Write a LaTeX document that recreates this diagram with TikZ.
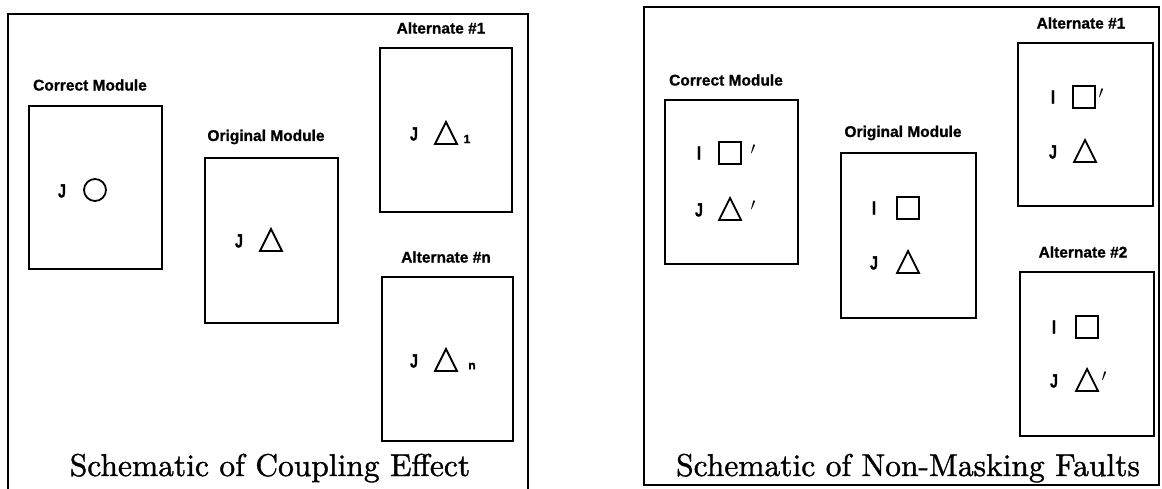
\documentclass[tikz,border=0pt]{standalone}
\usepackage{fontspec}
\newfontfamily\labelfont{Liberation Sans}[BoldFeatures={FakeBold=1}]
\newfontfamily\varfont{Liberation Sans}[BoldFeatures={FakeBold=1.5}]
\newfontfamily\titlefont{lmroman10-regular}[Extension=.otf, FakeBold=1.2]
\begin{document}
\begin{tikzpicture}[x=1pt,y=-1pt,
  panel/.style={line width=2pt},
  module/.style={draw, line width=1.9pt, anchor=north west, inner sep=0pt},
  lbl/.style={font=\labelfont\bfseries\fontsize{15.5}{16}\selectfont, inner sep=0pt},
  var/.style={font=\varfont\bfseries\fontsize{19}{19}\selectfont, inner sep=0pt, xscale=0.75},
  sub/.style={font=\varfont\bfseries\fontsize{12}{12}\selectfont, inner sep=0pt},
  prm/.style={font=\fontsize{18}{18}\selectfont, inner sep=0pt},
  ttl/.style={font=\titlefont\fontsize{31.5}{32}\selectfont, inner sep=0pt, anchor=base},
  sym/.style={line width=1.8pt},
  tri/.pic={\draw[sym] (-11,11) -- (11,11) -- (0,-11) -- cycle;},
  sq/.pic={\draw[sym] (-11,-11) rectangle (11,11);},
  circ/.pic={\draw[sym] (0,0) circle[radius=11];}
]
\useasboundingbox (0,0) rectangle (1162,489);

% ---------------- Coupling effect ----------------
\draw[panel] (8,489) -- (8,14) -- (528,14) -- (528,489);

\node[module, minimum width=133pt, minimum height=163pt] (cm) at (28,105) {};
\node[module, minimum width=133pt, minimum height=165pt] (om) at (204,157) {};
\node[module, minimum width=132pt, minimum height=164pt] (a1) at (379,47) {};
\node[module, minimum width=131pt, minimum height=164pt] (an) at (381,276) {};

\node[lbl] (cml) at (90,85) {Correct Module};
\node[lbl] (oml) at (266,137) {Original Module};
\node[lbl] (a1l) at (441,28) {Alternate \#1};
\node[lbl] (anl) at (446,257) {Alternate \#n};

\node[var] (cmj) at (62,191) {J};
\pic at (95,190) {circ};
\node[var] (omj) at (239,241) {J};
\pic at (271,240) {tri};
\node[var] (a1j) at (414,134) {J};
\pic at (446,133) {tri};
\node[sub] (a1s) at (467,139) {1};
\node[var] (anj) at (414,361) {J};
\pic at (446,360) {tri};
\node[sub] (ans) at (472,366) {n};

\node[ttl] (t1) at (270,476) {Schematic of Coupling Effect};

% ---------------- Non-masking faults ----------------
\draw[panel] (644,7) rectangle (1159,485);

\node[module, minimum width=133pt, minimum height=164pt] (rc) at (664,99) {};
\node[module, minimum width=135pt, minimum height=165pt] (ro) at (840,152) {};
\node[module, minimum width=135pt, minimum height=163pt] (r1) at (1017,42) {};
\node[module, minimum width=134pt, minimum height=164pt] (r2) at (1019,271) {};

\node[lbl] (rcl) at (726,80) {Correct Module};
\node[lbl] (rol) at (903,133) {Original Module};
\node[lbl] (r1l) at (1081,23) {Alternate \#1};
\node[lbl] (r2l) at (1083,252) {Alternate \#2};

\node[var] (rci) at (699,153) {I};
\pic at (730,153) {sq};
\node[prm] (rcp1) at (753,150) {$\prime$};
\node[var] (rcj) at (699,210) {J};
\pic at (730,209) {tri};
\node[prm] (rcp2) at (753,206) {$\prime$};

\node[var] (roi) at (874,208) {I};
\pic at (908,208) {sq};
\node[var] (roj) at (874,263) {J};
\pic at (908,262) {tri};

\node[var] (r1i) at (1053,97) {I};
\pic at (1084,97) {sq};
\node[prm] (r1p) at (1101,94) {$\prime$};
\node[var] (r1j) at (1053,152) {J};
\pic at (1085,151) {tri};

\node[var] (r2i) at (1054,327) {I};
\pic at (1087,327) {sq};
\node[var] (r2j) at (1054,381) {J};
\pic at (1087,380) {tri};
\node[prm] (r2p) at (1104,377) {$\prime$};

\node[ttl] (t2) at (908,476) {Schematic of Non-Masking Faults};
\end{tikzpicture}
\end{document}
